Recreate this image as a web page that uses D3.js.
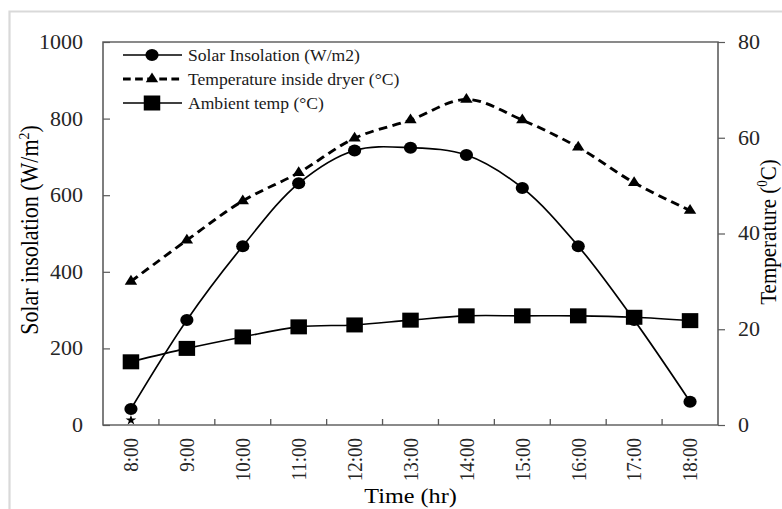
<!DOCTYPE html>
<html>
<head>
<meta charset="utf-8">
<script src="https://cdnjs.cloudflare.com/ajax/libs/d3/7.8.5/d3.min.js"></script>
<style>
  html, body { margin: 0; padding: 0; background: #fff; }
  svg { display: block; font-family: "Liberation Serif", "Times New Roman", serif; }
</style>
</head>
<body>
<div id="chart"></div>
<script>
// ---- data ----
const times = ["8:00","9:00","10:00","11:00","12:00","13:00","14:00","15:00","16:00","17:00","18:00"];
const solarInsolation = [42, 274, 467, 631, 717, 724, 705, 619, 467, 274, 61];   // W/m2 (left axis)
const tempInsideDryer = [30, 38.6, 46.8, 52.7, 59.9, 63.7, 68, 63.7, 58, 50.6, 44.8]; // °C (right axis)
const ambientTemp = [13.2, 16, 18.4, 20.5, 20.9, 21.9, 22.8, 22.8, 22.8, 22.5, 21.8]; // °C (right axis)
const strayMarker = [{ time: "8:00", value: 1 }]; // small star mark near the x axis at 8:00
const leftTicks = [0, 200, 400, 600, 800, 1000];
const rightTicks = [0, 20, 40, 60, 80];
const seriesNames = ["Solar Insolation (W/m2)", "Temperature inside dryer (°C)", "Ambient temp (°C)"];

// ---- layout ----
const W = 782, H = 509;
const SX = 1.1;              // the reference is slightly stretched horizontally
const X = v => v / SX;        // convert final px to inner coordinates
const pLeft = X(103), pRight = X(718), pTop = 42, pBottom = 425;

const svg = d3.select("#chart").append("svg").attr("width", W).attr("height", H);
const g = svg.append("g").attr("transform", `scale(${SX},1)`);

// outer light border
g.append("rect")
  .attr("x", X(9.5)).attr("y", 11.5)
  .attr("width", X(W + 20)).attr("height", H + 20)
  .attr("fill", "none").attr("stroke", "#d9d9d9").attr("stroke-width", 2);

const x = d3.scaleBand().domain(times).range([pLeft, pRight]);
const cx = t => x(t) + x.bandwidth() / 2;
const yL = d3.scaleLinear().domain([0, 1000]).range([pBottom, pTop]);
const yR = d3.scaleLinear().domain([0, 80]).range([pBottom, pTop]);

const axisColor = "#595959";
const tickTextColor = "#262626";

// left axis
const gl = g.append("g").attr("transform", `translate(${pLeft},0)`)
  .call(d3.axisLeft(yL).tickValues(leftTicks).tickFormat(d3.format("d"))
    .tickSizeInner(-X(7)).tickSizeOuter(0).tickPadding(X(20)));
gl.select(".domain").remove();
gl.selectAll(".tick line").attr("stroke", axisColor).attr("stroke-width", 1.2);
gl.selectAll(".tick text").attr("font-size", 20).attr("fill", tickTextColor)
  .attr("font-family", "Liberation Serif");

// right axis
const gr = g.append("g").attr("transform", `translate(${pRight},0)`)
  .call(d3.axisRight(yR).tickValues(rightTicks).tickFormat(d3.format("d"))
    .tickSizeInner(X(7)).tickSizeOuter(0).tickPadding(X(13)));
gr.select(".domain").remove();
gr.selectAll(".tick line").attr("stroke", axisColor).attr("stroke-width", 1.2);
gr.selectAll(".tick text").attr("font-size", 20).attr("fill", tickTextColor)
  .attr("font-family", "Liberation Serif");

// bottom axis labels
const gb = g.append("g").attr("transform", `translate(0,${pBottom})`)
  .call(d3.axisBottom(x).tickSize(0).tickPadding(0));
gb.select(".domain").remove();
gb.selectAll(".tick text")
  .attr("font-size", 19).attr("fill", tickTextColor).attr("font-family", "Liberation Serif")
  .attr("transform", "rotate(-90)")
  .attr("text-anchor", "end")
  .attr("x", -13).attr("y", 0).attr("dy", "0.35em");

// category boundary ticks (inward)
const boundaries = d3.range(1, times.length);
g.append("g").selectAll("line").data(boundaries).join("line")
  .attr("x1", i => pLeft + i * x.step()).attr("x2", i => pLeft + i * x.step())
  .attr("y1", pBottom).attr("y2", pBottom - 6)
  .attr("stroke", axisColor).attr("stroke-width", 1.2);

// plot frame
g.append("rect")
  .attr("x", pLeft).attr("y", pTop)
  .attr("width", pRight - pLeft).attr("height", pBottom - pTop)
  .attr("fill", "none").attr("stroke", axisColor).attr("stroke-width", 1.4);

// ---- lines ----
const curve = d3.curveCatmullRom.alpha(0.5);
const lineSolar = d3.line().x((d, i) => cx(times[i])).y(d => yL(d)).curve(curve);
const lineTemp = d3.line().x((d, i) => cx(times[i])).y(d => yR(d)).curve(curve);

g.append("path").datum(solarInsolation).attr("d", lineSolar)
  .attr("fill", "none").attr("stroke", "#000").attr("stroke-width", 1.6);
g.append("path").datum(tempInsideDryer).attr("d", lineTemp)
  .attr("fill", "none").attr("stroke", "#000").attr("stroke-width", 2.8)
  .attr("stroke-dasharray", "8,5");
g.append("path").datum(ambientTemp).attr("d", lineTemp)
  .attr("fill", "none").attr("stroke", "#000").attr("stroke-width", 1.6);

// ---- markers ----
const tri = d3.symbol().type(d3.symbolTriangle).size(55);
const sq = 15;
function drawCircle(sel, px, py) {
  sel.append("circle").attr("cx", px).attr("cy", py).attr("r", 6).attr("fill", "#000");
}
function drawTriangle(sel, px, py) {
  sel.append("path").attr("d", tri()).attr("transform", `translate(${px},${py})`).attr("fill", "#000");
}
function drawSquare(sel, px, py) {
  sel.append("rect").attr("x", px - sq / 2).attr("y", py - sq / 2)
    .attr("width", sq).attr("height", sq).attr("fill", "#000");
}

g.append("g").selectAll("circle").data(solarInsolation).join("circle")
  .attr("cx", (d, i) => cx(times[i])).attr("cy", d => yL(d)).attr("r", 6).attr("fill", "#000");
g.append("g").selectAll("path").data(tempInsideDryer).join("path")
  .attr("d", tri()).attr("fill", "#000")
  .attr("transform", (d, i) => `translate(${cx(times[i])},${yR(d)})`);
g.append("g").selectAll("rect").data(ambientTemp).join("rect")
  .attr("x", (d, i) => cx(times[i]) - sq / 2).attr("y", d => yR(d) - sq / 2)
  .attr("width", sq).attr("height", sq).attr("fill", "#000");
g.append("g").selectAll("path").data(strayMarker).join("path")
  .attr("d", d3.symbol().type(d3.symbolStar).size(30)()).attr("fill", "#000")
  .attr("transform", d => `translate(${cx(d.time)},${yR(d.value)})`);

// ---- legend ----
const legendRows = [55, 79, 103];
const lx1 = X(123), lx2 = X(182), lm = X(152), lt = X(188);
const lg = g.append("g");
seriesNames.forEach((name, i) => {
  const yy = legendRows[i];
  const ln = lg.append("line").attr("x1", lx1).attr("x2", lx2).attr("y1", yy).attr("y2", yy)
    .attr("stroke", "#000");
  if (i === 1) ln.attr("stroke-width", 2.8).attr("stroke-dasharray", "7,4");
  else ln.attr("stroke-width", 1.6);
  if (i === 0) drawCircle(lg, lm, yy);
  if (i === 1) drawTriangle(lg, lm, yy);
  if (i === 2) drawSquare(lg, lm, yy);
  lg.append("text").attr("x", lt).attr("y", yy).attr("dy", "0.35em")
    .attr("font-size", 16).attr("fill", "#1a1a1a").text(name);
});

// ---- axis titles ----
const tl = g.append("text")
  .attr("transform", `translate(${X(38)},230) rotate(-90)`)
  .attr("text-anchor", "middle").attr("font-size", 22).attr("fill", "#000");
tl.append("tspan").text("Solar insolation (W/m");
tl.append("tspan").attr("font-size", 14).attr("dy", -8).text("2");
tl.append("tspan").attr("dy", 8).text(")");

const tr = g.append("text")
  .attr("transform", `translate(${X(776)},232) rotate(-90)`)
  .attr("text-anchor", "middle").attr("font-size", 21).attr("fill", "#000");
tr.append("tspan").text("Temperature (");
tr.append("tspan").attr("font-size", 13).attr("dy", -8).text("0");
tr.append("tspan").attr("dy", 8).text("C)");

g.append("text")
  .attr("x", (pLeft + pRight) / 2).attr("y", 503)
  .attr("text-anchor", "middle").attr("font-size", 22).attr("fill", "#000")
  .text("Time (hr)");
</script>
</body>
</html>
